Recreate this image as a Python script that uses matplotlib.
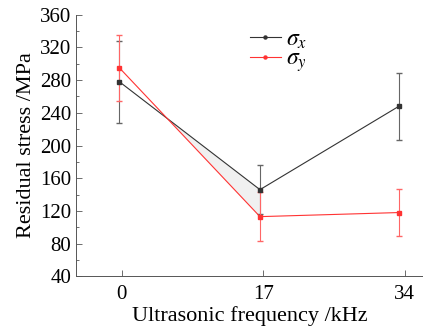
import numpy as np
import matplotlib.pyplot as plt
from matplotlib.lines import Line2D

plt.rcParams['font.family'] = ['Liberation Serif', 'DejaVu Serif']
plt.rcParams['mathtext.fontset'] = 'stix'

freq = [0, 17, 34]
x_pos = [-0.3, 16.6, 33.3]
sigma_x = [278, 146, 248]
sigma_x_err = [50, 30, 41]
sigma_y = [295, 113, 118]
sigma_y_err = [40, 30, 29]

fig = plt.figure(figsize=(4.23, 3.27), dpi=100)
ax = fig.add_axes([0.18, 0.155, 0.82, 0.80])

# zone grisee entre les deux courbes
xf = np.linspace(5.3, x_pos[1], 30)
ax.fill_between(xf, np.interp(xf, x_pos, sigma_x), np.interp(xf, x_pos, sigma_y),
                color='#f0f0f0', lw=0, zorder=1)

ax.errorbar(x_pos, sigma_x, yerr=sigma_x_err, color='#333333', lw=0.8, marker='s', ms=2.2,
            ecolor='#666666', elinewidth=0.8, capsize=2.5, zorder=3)
ax.errorbar(x_pos, sigma_y, yerr=sigma_y_err, color='#ff3333', lw=0.8, marker='s', ms=2.2,
            ecolor='#ff6666', elinewidth=0.8, capsize=2.5, zorder=3)

ax.set_xlim(-5.5, 36.2)
ax.set_ylim(40, 360)
ax.set_xticks(freq)
ax.set_yticks(range(40, 361, 40))
ax.set_yticks(range(60, 360, 40), minor=True)
ax.tick_params(direction='in', labelsize=15, length=4, width=0.6, color='#555555')
ax.tick_params(which='minor', direction='in', length=2.5, width=0.6, color='#555555')
ax.tick_params(axis='x', pad=6)

for s in ['top', 'right']:
    ax.spines[s].set_visible(False)
for s in ['left', 'bottom']:
    ax.spines[s].set_color('#555555')
    ax.spines[s].set_linewidth(0.7)

ax.set_xlabel('Ultrasonic frequency /kHz', fontsize=16, labelpad=2)
ax.set_ylabel('Residual stress /MPa', fontsize=16, labelpad=3)

handles = [Line2D([], [], color='#333333', lw=0.8, marker='o', ms=2.2),
           Line2D([], [], color='#ff3333', lw=0.8, marker='o', ms=2.2)]
leg = ax.legend(handles, [r'$\sigma_x$', r'$\sigma_y$'], loc='upper left',
                bbox_to_anchor=(0.46, 1.0), frameon=False, fontsize=17,
                handlelength=1.3, handletextpad=0.25, labelspacing=-0.1, borderpad=0.1)

fig.savefig('out.png', dpi=100)
